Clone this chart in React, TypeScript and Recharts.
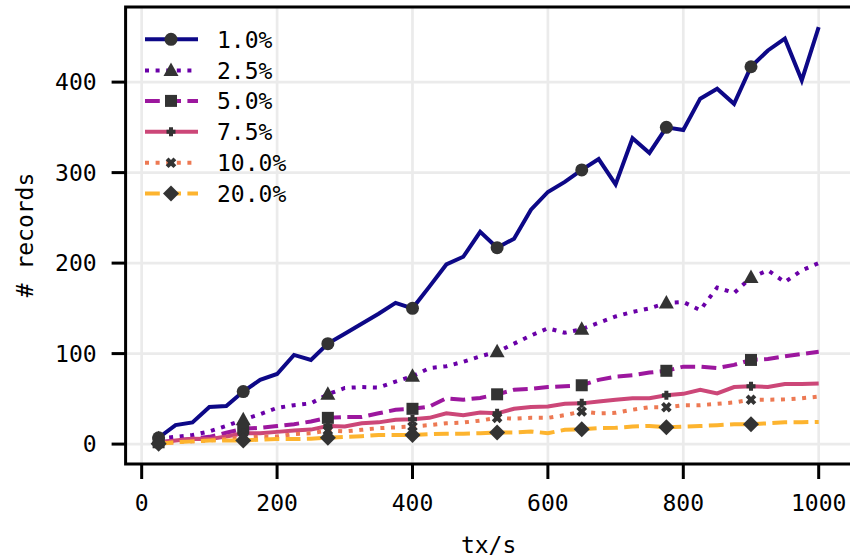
import { LineChart, Line, XAxis, YAxis, CartesianGrid } from 'recharts';

const txRates = [
    25, 50, 75, 100, 125, 150, 175, 200, 225, 250,
    275, 300, 325, 350, 375, 400, 425, 450, 475, 500,
    525, 550, 575, 600, 625, 650, 675, 700, 725, 750,
    775, 800, 825, 850, 875, 900, 925, 950, 975, 1000,
];

const records1 = [
    7, 21, 24, 41, 42, 58, 71, 77.5, 98.5, 93,
    111, 122, 133, 144, 156, 150, 174, 198.5, 207, 234.5,
    217, 227, 259, 278.6, 289.7, 303, 315, 287, 338, 321.7,
    350, 347, 381.7, 392.7, 376, 417, 435, 448, 402, 460.7,
];
const records2_5 = [
    6, 8, 10, 14, 20, 27, 33, 40, 43, 45,
    55, 62, 63, 62.5, 69, 75, 84, 86, 91, 97,
    102, 111, 120, 128, 123, 127, 134, 141, 146, 150,
    156, 157, 148, 173, 167, 184, 192, 179, 192, 200,
];
const records5 = [
    2, 4, 6, 8, 12.5, 17, 18, 20, 22, 25,
    29, 30, 30, 34, 38, 39, 41.5, 50.6, 49, 51,
    55, 60, 61, 63, 64, 65, 71, 74.5, 76, 79,
    81, 85.6, 85.6, 84, 87.5, 93, 94, 97, 99.6, 102,
];
const records7_5 = [
    1.5, 4, 6, 5.5, 8.4, 12, 12, 13.5, 15, 16,
    20, 19.4, 23, 24, 27, 27.5, 29, 34, 32, 35,
    34, 39, 41, 41.5, 44.5, 45, 47, 49, 50.6, 50.6,
    54, 55.5, 60, 56, 63, 64, 63, 66.5, 66.5, 67,
];
const records10 = [
    1, 2, 3, 4, 6, 7, 8.4, 8.4, 11, 12,
    15, 14, 15.8, 17.6, 18.5, 19.4, 21, 23, 23.8, 26,
    29, 28, 29, 29, 32, 36, 34, 34.5, 38, 40.7,
    40.7, 43, 43, 44.5, 46, 49, 49, 49.5, 50.6, 52.5,
];
const records20 = [
    0.5, 2, 3, 4, 4, 4, 5, 5.5, 5.5, 6,
    7, 8, 8.8, 10, 10, 10, 11, 11.5, 11.5, 12,
    12.8, 12.8, 14, 12, 15.8, 16.5, 17.6, 18, 19.4, 20,
    18.5, 19.4, 20, 20.8, 22, 22, 23, 24, 24.2, 24.5,
];

const xTicks = [0, 200, 400, 600, 800, 1000];
const yTicks = [0, 100, 200, 300, 400];

const FONT = '"DejaVu Sans Mono", monospace';
const MARK = '#333333';
const LW = 4;

type Shape = 'circle' | 'triangle' | 'square' | 'plus' | 'x' | 'diamond';

const SERIES: { key: string; name: string; color: string; dash?: string; shape: Shape }[] = [
    { key: 'r1', name: '1.0%', color: '#0d0887', shape: 'circle' },
    { key: 'r2', name: '2.5%', color: '#6a00a8', dash: '4 6.6', shape: 'triangle' },
    { key: 'r5', name: '5.0%', color: '#9c179e', dash: '14.8 6.4', shape: 'square' },
    { key: 'r7', name: '7.5%', color: '#cc4778', shape: 'plus' },
    { key: 'r10', name: '10.0%', color: '#ed7953', dash: '4 6.6', shape: 'x' },
    { key: 'r20', name: '20.0%', color: '#fdb42f', dash: '14.8 6.4', shape: 'diamond' },
];

const data = txRates.map((tx, i) => ({
    tx,
    r1: records1[i],
    r2: records2_5[i],
    r5: records5[i],
    r7: records7_5[i],
    r10: records10[i],
    r20: records20[i],
}));

function Marker({ shape, cx, cy }: { shape: Shape; cx: number; cy: number }) {
    switch (shape) {
        case 'circle':
            return <circle cx={cx} cy={cy} r={6.5} fill={MARK} />;
        case 'triangle':
            return <path d={`M${cx},${cy - 8}L${cx + 7.5},${cy + 5.5}L${cx - 7.5},${cy + 5.5}Z`} fill={MARK} />;
        case 'square':
            return <rect x={cx - 6} y={cy - 6} width={12} height={12} fill={MARK} />;
        case 'plus': {
            const a = 4.5, t = 2;
            return (
                <path
                    d={`M${cx - t},${cy - a}H${cx + t}V${cy - t}H${cx + a}V${cy + t}H${cx + t}V${cy + a}H${cx - t}V${cy + t}H${cx - a}V${cy - t}H${cx - t}Z`}
                    fill={MARK}
                />
            );
        }
        case 'x': {
            const a = 5.5, t = 2;
            return (
                <path
                    transform={`rotate(45 ${cx} ${cy})`}
                    d={`M${cx - t},${cy - a}H${cx + t}V${cy - t}H${cx + a}V${cy + t}H${cx + t}V${cy + a}H${cx - t}V${cy + t}H${cx - a}V${cy - t}H${cx - t}Z`}
                    fill={MARK}
                />
            );
        }
        default:
            return <path d={`M${cx},${cy - 8}L${cx + 8},${cy}L${cx},${cy + 8}L${cx - 8},${cy}Z`} fill={MARK} />;
    }
}

// markers on every 5th point, like markevery=5
const markEvery = (shape: Shape) => (props: any) => {
    const { cx, cy, index } = props;
    if (index % 5 !== 0) return <g key={`m-${shape}-${index}`} />;
    return (
        <g key={`m-${shape}-${index}`}>
            <Marker shape={shape} cx={cx} cy={cy} />
        </g>
    );
};

const legendRows = [39.3, 70.4, 100.9, 131.7, 162.8, 193.6];

export default function App() {
    return (
        <div style={{ position: 'absolute', left: 0, top: 0, width: 850, height: 557, overflow: 'hidden', background: '#fff' }}>
            <LineChart
                width={860}
                height={557}
                data={data}
                margin={{ top: 7, right: 8.3, bottom: 0, left: 0 }}
            >
                <CartesianGrid stroke="#ebebeb" strokeWidth={2.7} />
                <XAxis
                    dataKey="tx"
                    type="number"
                    domain={[-23.75, 1048.75]}
                    ticks={xTicks}
                    height={93}
                    axisLine={false}
                    tickSize={15}
                    tickMargin={16}
                    tickLine={{ stroke: '#000', strokeWidth: 3 }}
                    tick={{ fill: '#000', fontSize: 23, fontFamily: FONT }}
                    allowDataOverflow
                />
                <YAxis
                    type="number"
                    domain={[-22, 483]}
                    ticks={yTicks}
                    width={125.6}
                    axisLine={false}
                    tickSize={14}
                    tickMargin={15}
                    tickLine={{ stroke: '#000', strokeWidth: 3 }}
                    tick={{ fill: '#000', fontSize: 23, fontFamily: FONT }}
                    allowDataOverflow
                />
                {SERIES.map((s) => (
                    <Line
                        key={s.key}
                        dataKey={s.key}
                        name={s.name}
                        type="linear"
                        stroke={s.color}
                        strokeWidth={LW}
                        strokeDasharray={s.dash}
                        dot={markEvery(s.shape)}
                        activeDot={false}
                        isAnimationActive={false}
                    />
                ))}
            </LineChart>
            <svg
                width={850}
                height={557}
                style={{ position: 'absolute', left: 0, top: 0, pointerEvents: 'none' }}
            >
                <rect x={125.6} y={7} width={726.1} height={457} fill="none" stroke="#000" strokeWidth={3} />
                {SERIES.map((s, i) => (
                    <g key={s.key}>
                        <line x1={145} x2={198} y1={legendRows[i]} y2={legendRows[i]} stroke={s.color} strokeWidth={LW} strokeDasharray={s.dash} />
                        <Marker shape={s.shape} cx={171} cy={legendRows[i]} />
                        <text x={217} y={legendRows[i]} dy="0.36em" fontSize={23} fontFamily={FONT} fill="#000">
                            {s.name}
                        </text>
                    </g>
                ))}
                <text x={488.6} y={545} dy="0.36em" textAnchor="middle" fontSize={23} fontFamily={FONT} fill="#000">
                    tx/s
                </text>
                <text
                    x={25}
                    y={235}
                    dy="0.36em"
                    textAnchor="middle"
                    fontSize={23}
                    fontFamily={FONT}
                    fill="#000"
                    transform="rotate(-90 25 235)"
                >
                    # records
                </text>
            </svg>
        </div>
    );
}
